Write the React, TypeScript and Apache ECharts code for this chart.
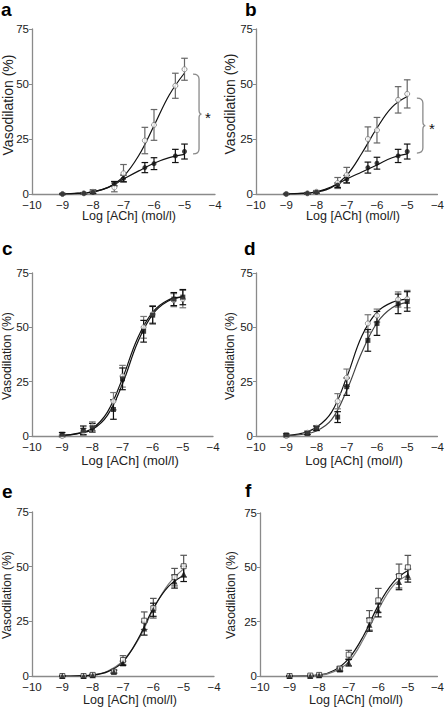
import React, { useEffect, useRef } from "react";
import * as echarts from "echarts";

// ---------- data ----------
const LOG_ACH = [-9, -8.3, -8, -7.3, -7, -6.3, -6, -5.3, -5];
const FIT_X = [-9, -8.5, -8, -7.5, -7, -6.5, -6, -5.5, -5];
const X_TICKS = [-10, -9, -8, -7, -6, -5, -4];
const Y_TICKS = [0, 25, 50, 75];
const PANEL_LETTERS = ["a", "b", "c", "d", "e", "f"];
const X_TITLE = "Log [ACh] (mol/l)";
const Y_TITLE = "Vasodilation (%)";
const SIG_MARK = "*";

// panel a
const aOpenMean = [0, 0.3, 1, 3, 9.4, 24.3, 31.4, 49.2, 56.7];
const aOpenSem = [0.3, 0.4, 1, 2, 4, 6, 7, 5.7, 5];
const aFilledMean = [0, 0.3, 0.8, 4.7, 7.1, 12, 13.8, 17.3, 19.3];
const aFilledSem = [0.2, 0.3, 0.5, 1, 1.5, 2.3, 2.7, 3, 3.4];
const aOpenFit = [0, 0.3, 1, 3, 8, 17.5, 31, 45, 55];
const aFilledFit = [0, 0.4, 1, 3, 6.8, 10.5, 14, 16.5, 18];
const aBrace = [-4.72, 18.2, 54.5];

// panel b
const bOpenMean = [0, 0.3, 1, 5, 8.6, 25, 29, 42.8, 45.5];
const bOpenSem = [0.3, 0.4, 0.6, 2.5, 3.5, 5.5, 5.8, 6, 6.4];
const bFilledMean = [0, 0.3, 0.8, 4, 6.7, 12, 14, 17.3, 19.3];
const bFilledSem = [0.2, 0.3, 0.4, 1, 1.7, 2.5, 2.7, 3, 3.4];
const bOpenFit = [0, 0.3, 0.9, 3, 8.5, 18.5, 30, 39.5, 44.3];
const bFilledFit = [0, 0.3, 1, 3.3, 6.8, 10, 13.2, 16.5, 18.2];
const bBrace = [-4.68, 18.6, 43.6];

// panel c
const cOpenMean = [0, 2, 4.5, 16, 27.5, 50, 56, 62.5, 63];
const cOpenSem = [0.5, 1.5, 2, 4, 5, 5, 4, 3, 4];
const cFilledMean = [0.8, 2.6, 3.8, 12.2, 26.3, 48.2, 55.6, 63, 63.9];
const cFilledSem = [0.8, 2, 2, 4.5, 5, 5, 4, 3, 3.5];
const cOpenFit = [0.3, 1.2, 3.5, 11, 26.5, 45, 57, 62.5, 64];
const cFilledFit = [0.3, 1, 3, 9.5, 24, 43, 56, 62, 64];

// panel d
const dOpenMean = [0, 1.5, 3.8, 16, 26.8, 51.8, 55.4, 62.8, 63];
const dOpenSem = [0.4, 0.8, 1, 3.5, 4, 4, 3, 3.5, 4];
const dFilledMean = [0.5, 1.2, 3.5, 8.7, 22.7, 44, 51.8, 60.8, 61.9];
const dFilledSem = [0.5, 0.6, 1, 2.5, 4, 5, 5.5, 4.5, 4.5];
const dOpenFit = [0.3, 1.2, 4, 11, 27, 46, 57, 61.5, 63];
const dFilledFit = [0.2, 0.7, 2.3, 7.5, 21, 38.5, 52, 59, 61.5];

// panel e
const eOpenMean = [0, 0, 0.5, 2, 7.3, 25.3, 31, 45.2, 50.2];
const eOpenSem = [0.2, 0.2, 0.4, 0.8, 2, 4, 4.5, 4, 5];
const eFilledMean = [0, 0, 0.3, 2, 5.8, 21.7, 30.3, 43.2, 46.7];
const eFilledSem = [0.2, 0.2, 0.3, 0.6, 1, 3, 3, 3, 3.5];
const eOpenFit = [0, 0.1, 0.5, 2.3, 7, 16.5, 30.5, 42, 49];
const eFilledFit = [0, 0.1, 0.4, 2, 6.5, 17, 31, 41, 46];

// panel f
const fOpenMean = [0, 0.2, 0.5, 3.4, 9.8, 25.6, 34.8, 46, 50];
const fOpenSem = [0.2, 0.2, 0.3, 1, 2, 4.5, 5.5, 5.5, 5.5];
const fFilledMean = [0, 0, 0.3, 3, 6.1, 23.6, 30.2, 43.2, 46.2];
const fFilledSem = [0.2, 0.2, 0.3, 0.8, 1.5, 3, 3, 3.5, 3];
const fOpenFit = [0, 0.1, 0.4, 2.5, 8, 18.5, 32.5, 43, 48.5];
const fFilledFit = [0, 0.1, 0.3, 2, 6.5, 17, 30.5, 41.5, 46.5];

// ---------- layout / style ----------
const FONT = "'Liberation Sans', Arial, Helvetica, sans-serif";
const AXIS_GRAY = "#8a8a8a";

const PANELS: any[] = [
  {
    grid: { left: 32, top: 29, width: 183, height: 165 },
    open: [aOpenMean, aOpenSem, aOpenFit],
    filled: [aFilledMean, aFilledSem, aFilledFit],
    openSym: "circle", filledSym: "circle",
    openColor: "#777", openBar: "#666", openLine: "#111",
    filledColor: "#111", filledBar: "#111", filledLine: "#111",
    brace: aBrace,
    letter: [1, 9], yTitle: [7.5, 105, 14], xTitle: [129, 216, 12.5],
  },
  {
    grid: { left: 256, top: 29, width: 182, height: 165 },
    open: [bOpenMean, bOpenSem, bOpenFit],
    filled: [bFilledMean, bFilledSem, bFilledFit],
    openSym: "circle", filledSym: "circle",
    openColor: "#777", openBar: "#666", openLine: "#111",
    filledColor: "#111", filledBar: "#111", filledLine: "#111",
    brace: bBrace,
    letter: [245, 9], yTitle: [230, 104, 14], xTitle: [353, 216, 12.5],
  },
  {
    grid: { left: 32, top: 273, width: 181, height: 163 },
    open: [cOpenMean, cOpenSem, cOpenFit],
    filled: [cFilledMean, cFilledSem, cFilledFit],
    openSym: "circle", filledSym: "rect",
    openColor: "#777", openBar: "#777", openLine: "#111",
    filledColor: "#111", filledBar: "#111", filledLine: "#111",
    letter: [2, 248], yTitle: [7, 356, 12.2], xTitle: [130, 460, 13],
  },
  {
    grid: { left: 256, top: 273, width: 182, height: 163 },
    open: [dOpenMean, dOpenSem, dOpenFit],
    filled: [dFilledMean, dFilledSem, dFilledFit],
    openSym: "circle", filledSym: "rect",
    openColor: "#777", openBar: "#777", openLine: "#111",
    filledColor: "#111", filledBar: "#111", filledLine: "#444",
    letter: [244, 248], yTitle: [230, 356, 12.2], xTitle: [354, 460, 13],
  },
  {
    grid: { left: 32, top: 512, width: 182, height: 164 },
    open: [eOpenMean, eOpenSem, eOpenFit],
    filled: [eFilledMean, eFilledSem, eFilledFit],
    openSym: "rect", filledSym: "triangle",
    openColor: "#333", openBar: "#555", openLine: "#777",
    filledColor: "#111", filledBar: "#111", filledLine: "#111",
    letter: [2, 491], yTitle: [7, 595, 12.2], xTitle: [130, 700, 12.5],
  },
  {
    grid: { left: 260, top: 513, width: 181, height: 163 },
    open: [fOpenMean, fOpenSem, fOpenFit],
    filled: [fFilledMean, fFilledSem, fFilledFit],
    openSym: "rect", filledSym: "triangle",
    openColor: "#333", openBar: "#555", openLine: "#111",
    filledColor: "#111", filledBar: "#111", filledLine: "#777",
    letter: [245, 490], yTitle: [231, 595, 12.2], xTitle: [356, 700, 12.5],
  },
];

const fmtTick = (v: number) => (v < 0 ? "\u2212" + Math.abs(v) : String(v));

const errorBarRender = (color: string) => (params: any, api: any) => {
  const x = api.value(0);
  const m = api.value(1);
  const s = api.value(2);
  const lo = api.coord([x, m - s]);
  const hi = api.coord([x, m + s]);
  const cw = 3.3;
  const style = { stroke: color, lineWidth: 1.2 };
  return {
    type: "group",
    children: [
      { type: "line", shape: { x1: lo[0], y1: lo[1], x2: hi[0], y2: hi[1] }, style },
      { type: "line", shape: { x1: hi[0] - cw, y1: hi[1], x2: hi[0] + cw, y2: hi[1] }, style },
      { type: "line", shape: { x1: lo[0] - cw, y1: lo[1], x2: lo[0] + cw, y2: lo[1] }, style },
    ],
  };
};

const braceRender = (params: any, api: any) => {
  const x0 = api.value(0);
  const lo = api.value(1);
  const hi = api.value(2);
  const pTop = api.coord([x0, hi]);
  const pBot = api.coord([x0, lo]);
  const L = pTop[0];
  const V = L + 6;
  const T = L + 8.5;
  const top = pTop[1];
  const bot = pBot[1];
  const mid = (top + bot) / 2;
  const d =
    `M${L},${top} Q${V},${top} ${V},${top + 5} L${V},${mid - 4} ` +
    `Q${V},${mid} ${T},${mid} Q${V},${mid} ${V},${mid + 4} ` +
    `L${V},${bot - 5} Q${V},${bot} ${L},${bot}`;
  return {
    type: "group",
    children: [
      {
        type: "path",
        shape: { pathData: d },
        style: { stroke: "#8a8a8a", fill: "none", lineWidth: 1.3 },
      },
      {
        type: "text",
        x: L + 15,
        y: mid + 3,
        style: {
          text: SIG_MARK,
          fill: "#111",
          font: `15px ${FONT}`,
          align: "center",
          verticalAlign: "middle",
        },
      },
    ],
  };
};

function buildOption() {
  const grid: any[] = [];
  const xAxis: any[] = [];
  const yAxis: any[] = [];
  const series: any[] = [];
  const graphic: any[] = [];

  PANELS.forEach((p, i) => {
    grid.push({ ...p.grid, containLabel: false });
    xAxis.push({
      type: "value",
      gridIndex: i,
      min: X_TICKS[0],
      max: X_TICKS[X_TICKS.length - 1],
      interval: 1,
      axisLine: { show: true, onZero: false, lineStyle: { color: AXIS_GRAY, width: 1.3 } },
      axisTick: { show: false },
      splitLine: { show: false },
      axisLabel: {
        formatter: fmtTick,
        color: "#222",
        fontSize: 11.5,
        lineHeight: 11,
        fontFamily: FONT,
        margin: 5,
        showMinLabel: true,
        showMaxLabel: true,
      },
    });
    yAxis.push({
      type: "value",
      gridIndex: i,
      min: Y_TICKS[0],
      max: Y_TICKS[Y_TICKS.length - 1],
      interval: 25,
      axisLine: { show: true, onZero: false, lineStyle: { color: AXIS_GRAY, width: 1.3 } },
      axisTick: { show: true, length: 3, lineStyle: { color: AXIS_GRAY, width: 1 } },
      splitLine: { show: false },
      axisLabel: {
        formatter: fmtTick,
        color: "#222",
        fontSize: 11.5,
        lineHeight: 9,
        fontFamily: FONT,
        margin: 3,
        showMinLabel: true,
        showMaxLabel: true,
      },
    });

    const groups = [
      { key: "open", arr: p.open, sym: p.openSym, color: p.openColor, bar: p.openBar, line: p.openLine, hollow: true },
      { key: "filled", arr: p.filled, sym: p.filledSym, color: p.filledColor, bar: p.filledBar, line: p.filledLine, hollow: false },
    ];

    groups.forEach((g) => {
      const [mean, sem, fit] = g.arr;
      series.push({
        type: "line",
        name: `${PANEL_LETTERS[i]}-${g.key}-fit`,
        xAxisIndex: i,
        yAxisIndex: i,
        data: FIT_X.map((x, k) => [x, fit[k]]),
        smooth: 0.4,
        showSymbol: false,
        symbol: "none",
        lineStyle: { color: g.line, width: 1.2 },
        z: 2,
        silent: true,
      });
      series.push({
        type: "custom",
        name: `${PANEL_LETTERS[i]}-${g.key}-sem`,
        xAxisIndex: i,
        yAxisIndex: i,
        renderItem: errorBarRender(g.bar),
        encode: { x: 0, y: 1 },
        data: LOG_ACH.map((x, k) => [x, mean[k], sem[k]]),
        z: 3,
        silent: true,
      });
      series.push({
        type: "scatter",
        name: `${PANEL_LETTERS[i]}-${g.key}`,
        xAxisIndex: i,
        yAxisIndex: i,
        data: LOG_ACH.map((x, k) => [x, mean[k]]),
        symbol: g.sym,
        symbolSize: g.sym === "triangle" ? 6 : 5,
        itemStyle: g.hollow
          ? { color: "#fff", borderColor: g.color, borderWidth: 1 }
          : { color: g.color, borderWidth: 0 },
        z: g.hollow ? 5 : 6,
        silent: true,
      });
    });

    if (p.brace) {
      series.push({
        type: "custom",
        name: `${PANEL_LETTERS[i]}-significance`,
        xAxisIndex: i,
        yAxisIndex: i,
        renderItem: braceRender,
        encode: { x: 0, y: 1 },
        data: [p.brace],
        clip: false,
        z: 4,
        silent: true,
      });
    }

    graphic.push({
      type: "text",
      x: p.letter[0],
      y: p.letter[1],
      style: {
        text: PANEL_LETTERS[i],
        fill: "#000",
        font: `bold 19px ${FONT}`,
        align: "left",
        verticalAlign: "middle",
      },
    });
    graphic.push({
      type: "text",
      x: p.yTitle[0],
      y: p.yTitle[1],
      rotation: Math.PI / 2,
      style: {
        text: Y_TITLE,
        fill: "#222",
        font: `${p.yTitle[2]}px ${FONT}`,
        align: "center",
        verticalAlign: "middle",
      },
    });
    graphic.push({
      type: "text",
      x: p.xTitle[0],
      y: p.xTitle[1],
      style: {
        text: X_TITLE,
        fill: "#222",
        font: `${p.xTitle[2]}px ${FONT}`,
        align: "center",
        verticalAlign: "middle",
      },
    });
  });

  return {
    animation: false,
    backgroundColor: "#fff",
    grid,
    xAxis,
    yAxis,
    series,
    graphic,
  };
}

export default function App() {
  const ref = useRef<HTMLDivElement>(null);
  useEffect(() => {
    if (!ref.current) return;
    const chart = echarts.init(ref.current, undefined, { renderer: "svg" });
    chart.setOption(buildOption() as any);
    return () => chart.dispose();
  }, []);
  return (
    <div
      ref={ref}
      style={{ position: "fixed", left: 0, top: 0, width: 447, height: 708, background: "#fff" }}
    />
  );
}
